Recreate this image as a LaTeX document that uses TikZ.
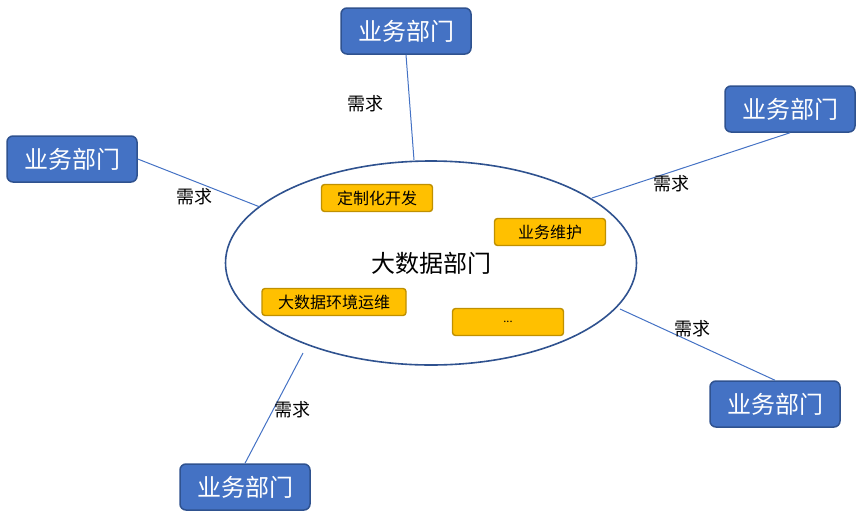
\documentclass[tikz,border=0pt]{standalone}
\usepackage{fontspec}
\setmainfont{Noto Sans CJK SC}
\usetikzlibrary{shapes.geometric}
\definecolor{deptblue}{HTML}{4472C4}
\definecolor{deptedge}{HTML}{2F528F}
\definecolor{taskfill}{HTML}{FFC000}
\definecolor{taskedge}{HTML}{BF9000}
\begin{document}
\begin{tikzpicture}[x=1pt,y=-1pt,
	dept/.style={draw=deptedge, line width=1.5pt, fill=deptblue, rounded corners=6pt,
		minimum width=130pt, minimum height=46pt, text=white,
		font=\fontsize{24}{28}\selectfont},
	task/.style={draw=taskedge, line width=1.4pt, fill=taskfill, rounded corners=3pt,
		minimum width=111pt, minimum height=27pt, inner sep=0pt,
		font=\fontsize{16}{18}\selectfont},
	need/.style={font=\fontsize{18}{20}\selectfont},
	link/.style={draw=deptblue, line width=1pt}]
		\useasboundingbox (0,0) rectangle (865,520);

		% Big data department
		\node[ellipse, draw=deptedge, line width=1.6pt, minimum width=411pt, minimum height=204pt,
			inner sep=0pt, font=\fontsize{24}{28}\selectfont] (bd) at (431,263) {大数据部门};
		\node[task] (dev) at (377,198) {定制化开发};
		\node[task] (maint) at (550,232) {业务维护};
		\node[task, minimum width=144pt] (ops) at (334,302) {大数据环境运维};
		\node[task] (more) at (508,322) {\fontsize{11}{12}\selectfont ...};

		% Business departments
		\node[dept] (d1) at (406,31) {业务部门};
		\node[dept] (d2) at (790,109) {业务部门};
		\node[dept] (d3) at (72,159) {业务部门};
		\node[dept] (d4) at (775,404) {业务部门};
		\node[dept] (d5) at (245,487) {业务部门};

		% Links
		\coordinate (e1) at (414,160);
		\coordinate (e2) at (592,198);
		\coordinate (e3) at (260,207);
		\coordinate (e4) at (620,309);
		\coordinate (e5) at (303,353);
		\draw[link] (d1.south) -- (e1);
		\draw[link] (d2.south) -- (e2);
		\draw[link] (d3.east) -- (e3);
		\draw[link] (d4.north) -- (e4);
		\draw[link] (d5.north) -- (e5);

		\node[need] (n1) at (365,104) {需求};
		\node[need] (n2) at (671,184) {需求};
		\node[need] (n3) at (194,197) {需求};
		\node[need] (n4) at (692,329) {需求};
		\node[need] (n5) at (292,410) {需求};
	\end{tikzpicture}
\end{document}
